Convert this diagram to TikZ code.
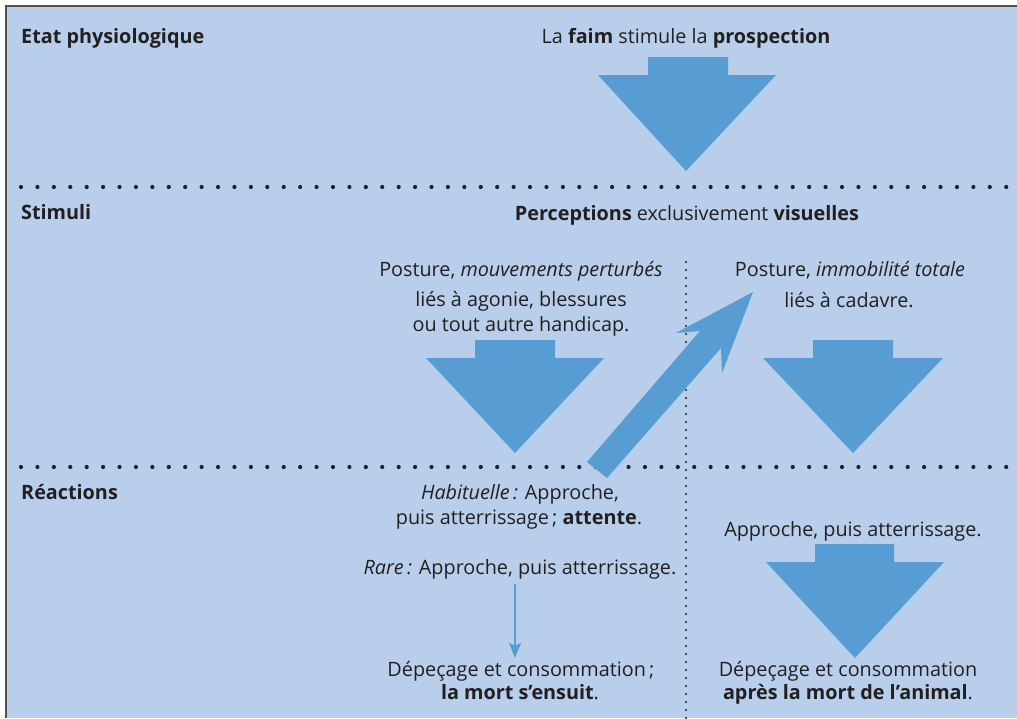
\documentclass[tikz,border=0pt]{standalone}
\usepackage{fontspec}
\setmainfont{Open Sans}
\usetikzlibrary{arrows.meta}
\definecolor{bg}{RGB}{184,206,235}
\definecolor{arr}{RGB}{88,156,212}
\definecolor{txt}{RGB}{35,31,32}
\definecolor{frame}{RGB}{80,80,80}
\begin{document}
\begin{tikzpicture}[x=1pt,y=-1pt,
  lbl/.style={font=\fontsize{19.8}{24}\selectfont, text=txt, inner sep=0pt, anchor=base},
  lblw/.style={lbl, anchor=base west},
  fat/.style={fill=arr, draw=none},
  dotsH/.style={draw=txt, line width=4.2pt, line cap=round, dash pattern=on 0pt off 16.42pt},
  dotsV/.style={draw=txt, line width=2.4pt, line cap=round, dash pattern=on 0pt off 8pt},
  thinarrow/.style={draw=arr, line width=1.6pt, -{Stealth[length=15pt,width=12pt,inset=3pt]}}
]
\useasboundingbox (0,0) rectangle (1017,718);
\fill[white] (0,0) rectangle (1017,718);
\fill[bg] (6,6) rectangle (1017,718);
\draw[frame, line width=2pt] (6,718) -- (6,6) -- (1017,6);

% dotted separators
\draw[dotsH] (21,187) -- (1008,187);
\draw[dotsH] (21,467) -- (1008,467);
\draw[dotsV] (686,262) -- (686,718);

% fat arrows
\fill[fat] (648,57) -- (728,57) -- (728,75) -- (776,75) -- (686,171) -- (598,75) -- (648,75) -- cycle;
\fill[fat] (475,340) -- (555,340) -- (555,358) -- (604,358) -- (515,453) -- (426,358) -- (475,358) -- cycle;
\fill[fat] (813,340) -- (893,340) -- (893,358) -- (943,358) -- (853,453) -- (763,358) -- (813,358) -- cycle;
\fill[fat] (815,544) -- (894,544) -- (894,562) -- (944,562) -- (855,658) -- (766,562) -- (815,562) -- cycle;
% diagonal arrow
\fill[fat] (587,462) -- (700,331) -- (676,333) -- (753,292) -- (722,373) -- (721,348) -- (607,478) -- cycle;

% texts
\node[lblw] (etat) at (21,43) {\bfseries Etat physiologique};
\node[lbl] (faim) at (686,43) {La \textbf{faim} stimule la \textbf{prospection}};
\node[lblw] (stim) at (21,219) {\bfseries Stimuli};
\node[lbl] (perc) at (687,220) {\textbf{Perceptions} exclusivement \textbf{visuelles}};
\node[lbl] (post1) at (521,276) {Posture, \textit{mouvements perturbés}};
\node[lbl] (lies1a) at (521,306) {liés à agonie, blessures};
\node[lbl] (lies1b) at (521,331) {ou tout autre handicap.};
\node[lbl] (post2) at (850,276) {Posture, \textit{immobilité totale}};
\node[lbl] (lies2) at (849,307) {liés à cadavre.};
\node[lblw] (reac) at (21,499) {\bfseries Réactions};
\node[lbl] (hab1) at (520,499) {\textit{Habituelle\,:} Approche,};
\node[lbl] (hab2) at (519,524) {puis atterrissage\,; \textbf{attente}.};
\node[lbl] (rare) at (520,574) {\textit{Rare\,:} Approche, puis atterrissage.};
\node[lbl] (dep1) at (521,676) {Dépeçage et consommation\,;};
\node[lbl] (dep2) at (520,699) {\textbf{la mort s’ensuit}.};
\node[lbl] (app) at (853,536) {Approche, puis atterrissage.};
\node[lbl] (dep3) at (848,676) {Dépeçage et consommation};
\node[lbl] (dep4) at (848,699) {\textbf{après la mort de l’animal}.};

% thin arrow
\coordinate (t1) at (515,584);
\coordinate (t2) at (515,658);
\draw[thinarrow] (t1) -- (t2);
\end{tikzpicture}
\end{document}
